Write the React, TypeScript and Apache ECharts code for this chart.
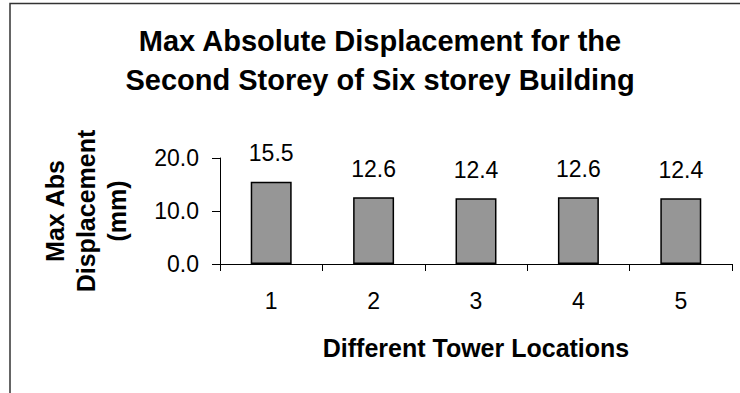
import React, { useEffect, useRef } from "react";
import * as echarts from "echarts";

const titleLines = ["Max Absolute Displacement for the", "Second Storey of Six storey Building"];
const categories = ["1", "2", "3", "4", "5"];
const values = [15.5, 12.6, 12.4, 12.6, 12.4];
const yAxisName = ["Max Abs", "Displacement", "(mm)"];
const xAxisName = "Different Tower Locations";
const yMin = 0;
const yMax = 20;
const yInterval = 10;

const FONT = "'Liberation Sans', Arial, sans-serif";

export default function App() {
  const ref = useRef<HTMLDivElement>(null);
  useEffect(() => {
    if (!ref.current) return;
    const chart = echarts.init(ref.current, undefined, { renderer: "svg" });
    chart.setOption({
      animation: false,
      backgroundColor: "#ffffff",
      textStyle: { fontFamily: FONT, color: "#000" },
      title: {
        text: titleLines.join("\n"),
        left: 380,
        top: 21,
        padding: 0,
        textAlign: "center",
        textStyle: {
          fontFamily: FONT,
          fontSize: 29,
          fontWeight: "bold",
          color: "#000",
          lineHeight: 39,
        },
      },
      graphic: [
        {
          type: "rect",
          shape: { x: 10, y: 3.5, width: 760, height: 420 },
          style: { fill: "none", stroke: "#333", lineWidth: 1.5 },
          silent: true,
        },
      ],
      grid: { left: 220, right: 8, top: 158, bottom: 129, containLabel: false },
      xAxis: {
        type: "category",
        data: categories,
        name: xAxisName,
        nameLocation: "middle",
        nameGap: 71,
        nameTextStyle: { fontFamily: FONT, fontSize: 25, fontWeight: "bold", color: "#000" },
        axisLine: { lineStyle: { color: "#000", width: 1 } },
        axisTick: { show: true, length: 7, lineStyle: { color: "#000" } },
        axisLabel: { fontFamily: FONT, fontSize: 23, color: "#000", margin: 25 },
      },
      yAxis: {
        type: "value",
        min: yMin,
        max: yMax,
        interval: yInterval,
        name: yAxisName.join("\n"),
        nameLocation: "middle",
        nameGap: 88,
        nameTextStyle: {
          fontFamily: FONT,
          fontSize: 25,
          fontWeight: "bold",
          color: "#000",
          lineHeight: 31,
          align: "center",
        },
        axisLine: { show: true, lineStyle: { color: "#000", width: 1 } },
        axisTick: { show: true, length: 8, lineStyle: { color: "#000" } },
        splitLine: { show: false },
        axisLabel: {
          fontFamily: FONT,
          fontSize: 23,
          color: "#000",
          margin: 21,
          formatter: (v: number) => v.toFixed(1),
        },
      },
      series: [
        {
          type: "bar",
          data: values,
          barWidth: "40%",
          itemStyle: { color: "#969696", borderColor: "#000", borderWidth: 1.5 },
          label: {
            show: true,
            position: "top",
            distance: 17,
            fontFamily: FONT,
            fontSize: 23,
            color: "#000",
            formatter: (p: any) => Number(p.value).toFixed(1),
          },
        },
      ],
    });
    return () => chart.dispose();
  }, []);
  return (
    <div
      ref={ref}
      style={{ position: "fixed", left: 0, top: 0, width: 740, height: 393 }}
    />
  );
}
